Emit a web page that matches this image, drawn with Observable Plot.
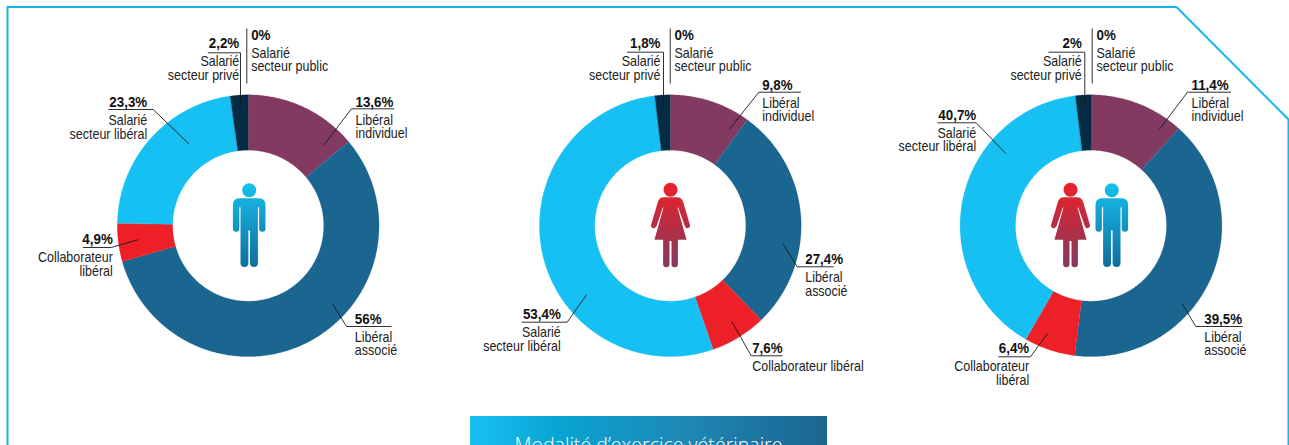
<!DOCTYPE html>
<html lang="fr">
<head>
<meta charset="utf-8">
<style>html,body{margin:0;padding:0;background:#fff;overflow:hidden}svg{display:block}</style>
<script src="https://cdn.jsdelivr.net/npm/d3@7"></script>
<script src="https://cdn.jsdelivr.net/npm/@observablehq/plot@0.6"></script>
</head>
<body>
<script>
// ---- data ----
const categories = ["Libéral individuel","Libéral associé","Collaborateur libéral","Salarié secteur libéral","Salarié secteur privé","Salarié secteur public"];
// printed percentages
const hommes = [13.6,56,4.9,23.3,2.2,0];
const femmes = [9.8,27.4,7.6,53.4,1.8,0];
const ensemble = [11.4,39.5,6.4,40.7,2,0];
const hommesArcs = [13.9,56.7,4.7,22.5,2.2,0];
const femmesArcs = [10,27.8,6.9,53.4,1.9,0];
const ensembleArcs = [11.7,40.3,6.3,39.8,1.9,0];
const bannerTitle = "Modalité d’exercice vétérinaire";

// ---- styles ----
const colors = ["#823a60","#1b6591","#ee2027","#17c0f3","#052c45","#0a0a0a"];
const FONT = "'Liberation Sans',sans-serif";

// ---- layout ----
const CY = 225.2, R0 = 75.5, R1 = 130.9;
const donuts = [{cx:247.7,values:hommes,arcs:hommesArcs},{cx:669.8,values:femmes,arcs:femmesArcs},{cx:1090.5,values:ensemble,arcs:ensembleArcs}];
const icons = [{x:248.7,y:225,kind:"man"},{x:670,y:225,kind:"woman"},{x:1070,y:225,kind:"woman"},{x:1111.3,y:225,kind:"man"}];
const frame = [[7,445],[7,6.5],[1176,6.5],[1288,119],[1288,445]];
// leader layout: d donut, c category, x text edge, a anchor, yv value baseline, ys name baselines, n name lines, path leader
const L = [
 {d:0,c:5,x:250.7,a:"start",yv:39,ys:[57,70.3],n:["Salarié","secteur public"],p:[[246.3,28.3],[246.3,82.7]]},
 {d:0,c:4,x:238.7,a:"end",yv:47,ys:[65,79.3],n:["Salarié","secteur privé"],p:[[207.7,52.3],[240,52.3],[240,106.7]]},
 {d:0,c:3,x:146.7,a:"end",yv:106,ys:[124,138],n:["Salarié","secteur libéral"],p:[[108.3,109],[152.7,109],[188.3,143.3]]},
 {d:0,c:0,x:355,a:"start",yv:106,ys:[124.3,137],n:["Libéral","individuel"],p:[[393.3,108.3],[351,108.3],[322.7,145.3]]},
 {d:0,c:2,x:112.3,a:"end",yv:243,ys:[261,275],n:["Collaborateur","libéral"],p:[[82.7,247],[110.7,247],[137.3,239.3]]},
 {d:0,c:1,x:354.3,a:"start",yv:323,ys:[341,354],n:["Libéral","associé"],p:[[390.7,326],[346,326],[332.3,303.7]]},

 {d:1,c:5,x:674,a:"start",yv:39,ys:[57,70.3],n:["Salarié","secteur public"],p:[[669.7,28.3],[669.7,82.7]]},
 {d:1,c:4,x:660,a:"end",yv:47,ys:[65,79.3],n:["Salarié","secteur privé"],p:[[627,51.7],[663,51.7],[663,106]]},
 {d:1,c:0,x:761.7,a:"start",yv:89.3,ys:[107,120.7],n:["Libéral","individuel"],p:[[800,91.7],[758.3,91.7],[729,128.7]]},
 {d:1,c:1,x:804.7,a:"start",yv:263.3,ys:[281.3,295],n:["Libéral","associé"],p:[[832.7,266.3],[796.7,266.3],[783,244]]},
 {d:1,c:2,x:751.7,a:"start",yv:352.3,ys:[370],n:["Collaborateur libéral"],p:[[781.7,355.3],[750.7,355.3],[731.3,321]]},
 {d:1,c:3,x:560.3,a:"end",yv:318.3,ys:[336,350],n:["Salarié","secteur libéral"],p:[[521.7,321.7],[566.7,321.7],[586,294.3]]},

 {d:2,c:5,x:1096,a:"start",yv:39,ys:[57,70.3],n:["Salarié","secteur public"],p:[[1091.7,28.3],[1091.7,82.7]]},
 {d:2,c:4,x:1081.3,a:"end",yv:47,ys:[65,79.3],n:["Salarié","secteur privé"],p:[[1048.3,51.7],[1084.3,51.7],[1084.3,106]]},
 {d:2,c:0,x:1191,a:"start",yv:89.3,ys:[107,120.7],n:["Libéral","individuel"],p:[[1230,91.7],[1187,91.7],[1159,128.7]]},
 {d:2,c:1,x:1203.7,a:"start",yv:323,ys:[341,354],n:["Libéral","associé"],p:[[1241.7,326],[1195.3,326],[1182,303.7]]},
 {d:2,c:2,x:1028.7,a:"end",yv:352,ys:[370,384],n:["Collaborateur","libéral"],p:[[998.3,356.3],[1030,356.3],[1046.7,333.3]]},
 {d:2,c:3,x:975.7,a:"end",yv:119.3,ys:[137.3,150],n:["Salarié","secteur libéral"],p:[[937.3,122.3],[975.7,122.3],[1005,152.7]]}
];

// ---- derived tables ----
const pct = v => v.toLocaleString("fr-FR") + "%";
const wedges = donuts.flatMap(({cx,arcs}) => {
  let acc = 0;
  return arcs.map((v,i) => {
    const a0 = acc/100*2*Math.PI; acc += v; const a1 = acc/100*2*Math.PI;
    return {cx,i,v,a0,a1,category:categories[i]};
  }).filter(w => w.v > 0);
});
function wedgeGeometry({cx,a0,a1}) {
  const n = Math.max(2, Math.ceil((a1-a0)/0.01));
  const ring = [];
  for (let k=0;k<=n;k++){const a=a0+(a1-a0)*k/n; ring.push([cx+R1*Math.sin(a),CY-R1*Math.cos(a)]);}
  for (let k=n;k>=0;k--){const a=a0+(a1-a0)*k/n; ring.push([cx+R0*Math.sin(a),CY-R0*Math.cos(a)]);}
  ring.push(ring[0]);
  return {type:"Polygon",coordinates:[ring]};
}
const valueRows = L.map(l => ({x:l.x,y:l.yv,a:l.a,t:pct(donuts[l.d].values[l.c])}));
const nameRows = L.flatMap(l => l.n.map((t,k) => ({x:l.x,y:l.ys[k],a:l.a,t})));
const leaderRows = L.flatMap((l,id) => l.p.map(([x,y]) => ({id,x,y})));
const frameRows = frame.map(([x,y]) => ({x,y}));

// ---- pictograms as custom dot symbols (origin = icon centre) ----
const manSymbol = {draw(c){
  c.moveTo(7,-35.3); c.arc(0,-35.3,7,0,2*Math.PI); c.closePath();
  c.moveTo(-10,-27.3);
  c.lineTo(10,-27.3);
  c.quadraticCurveTo(16.3,-27.3,16.3,-20.5);
  c.lineTo(16.3,3);
  c.arc(13.1,3,3.2,0,Math.PI);
  c.lineTo(9.9,-18.3);
  c.lineTo(8.7,-18.3);
  c.lineTo(8.7,37.5);
  c.arc(4.75,37.5,3.95,0,Math.PI);
  c.lineTo(0.8,5);
  c.lineTo(-0.8,5);
  c.lineTo(-0.8,37.5);
  c.arc(-4.75,37.5,3.95,0,Math.PI);
  c.lineTo(-8.7,-18.3);
  c.lineTo(-9.9,-18.3);
  c.lineTo(-9.9,3);
  c.arc(-13.1,3,3.2,0,Math.PI);
  c.lineTo(-16.3,-20.5);
  c.quadraticCurveTo(-16.3,-27.3,-10,-27.3);
  c.closePath();
}};
const womanSymbol = {draw(c){
  c.moveTo(7,-35.7); c.arc(0,-35.7,7,0,2*Math.PI); c.closePath();
  c.moveTo(-6.5,-28.3);
  c.lineTo(6.5,-28.3);
  c.quadraticCurveTo(11,-28.3,12.5,-24);
  c.lineTo(19.3,-1);
  c.arc(16.9,0,2.6,-0.4,Math.PI-0.3);
  c.lineTo(7.7,-18);
  c.lineTo(7,-18);
  c.lineTo(16,14.3);
  c.lineTo(7.4,14.3);
  c.lineTo(7.4,38.5);
  c.arc(4.2,38.5,3.2,0,Math.PI);
  c.lineTo(1,15.5);
  c.lineTo(-1,15.5);
  c.lineTo(-1,38.5);
  c.arc(-4.2,38.5,3.2,0,Math.PI);
  c.lineTo(-7.4,14.3);
  c.lineTo(-16,14.3);
  c.lineTo(-7,-18);
  c.lineTo(-7.7,-18);
  c.lineTo(-14.3,1.8);
  c.arc(-16.9,0,2.6,0.3,Math.PI+0.4);
  c.lineTo(-12.5,-24);
  c.quadraticCurveTo(-11,-28.3,-6.5,-28.3);
  c.closePath();
}};

function gradients() {
  const defs = d3.create("svg:g");
  const d = defs.append("defs");
  const grad = (id,x2,y2,stops) => {
    const g = d.append("linearGradient").attr("id",id).attr("x1",0).attr("y1",0).attr("x2",x2).attr("y2",y2);
    stops.forEach(([o,c]) => g.append("stop").attr("offset",o).attr("stop-color",c));
  };
  grad("gMan",0,1,[[0,"#17c0ee"],[1,"#0f6e9e"]]);
  grad("gWoman",0,1,[[0,"#ee2027"],[1,"#823a60"]]);
  grad("gBanner",1,0,[[0,"#17c0f3"],[0.25,"#09a4d2"],[0.6,"#1e88b5"],[1,"#1b6591"]]);
  return defs.node();
}

const NAME_SIZE = 14.5, VALUE_SIZE = 15;
const chart = Plot.plot({
  width:1289, height:445, margin:0,
  x:{domain:[0,1289],range:[0,1289],axis:null},
  y:{domain:[0,445],range:[0,445],axis:null},
  style:{background:"#fff",fontFamily:FONT},
  marks:[
    gradients,
    Plot.line(frameRows,{x:"x",y:"y",stroke:"#19b4ec",strokeWidth:2,curve:"linear"}),
    Plot.rect([{t:bannerTitle}],{x1:()=>470,x2:()=>827,y1:()=>416,y2:()=>445,fill:"url(#gBanner)"}),
    Plot.text([{t:bannerTitle}],{x:()=>648,y:()=>451,text:"t",fill:"#fff",fontSize:19.6,fontWeight:300,fontFamily:"'Open Sans',sans-serif",lineAnchor:"bottom"}),
    Plot.geo(wedges,{geometry:wedgeGeometry,fill:d=>colors[d.i],stroke:d=>colors[d.i],strokeWidth:0.2}),
    Plot.dot(icons.filter(d=>d.kind==="man"),{x:"x",y:"y",symbol:manSymbol,fill:"url(#gMan)",stroke:"none"}),
    Plot.dot(icons.filter(d=>d.kind==="woman"),{x:"x",y:"y",symbol:womanSymbol,fill:"url(#gWoman)",stroke:"none"}),
    Plot.line(leaderRows,{x:"x",y:"y",z:"id",stroke:"#1a1a1a",strokeWidth:0.9,curve:"linear"}),
    ...["start","end"].flatMap(a => [
      Plot.text(nameRows.filter(d=>d.a===a),{x:"x",y:"y",text:"t",textAnchor:a,lineAnchor:"bottom",fontSize:NAME_SIZE,fill:"#222"}),
      Plot.text(valueRows.filter(d=>d.a===a),{x:"x",y:"y",text:"t",textAnchor:a,lineAnchor:"bottom",fontSize:VALUE_SIZE,fontWeight:700,fill:"#111"})
    ])
  ]
});
document.body.appendChild(chart);
// the source uses a condensed face, not installed here: squeeze the glyphs to the same widths
const condense = (size,f) => chart.querySelectorAll(`g[font-size="${size}"] text`).forEach(t => {
  t.setAttribute("textLength",(t.getComputedTextLength()*f).toFixed(2));
  t.setAttribute("lengthAdjust","spacingAndGlyphs");
});
condense(NAME_SIZE,0.86);
condense(VALUE_SIZE,0.89);
</script>
</body>
</html>
